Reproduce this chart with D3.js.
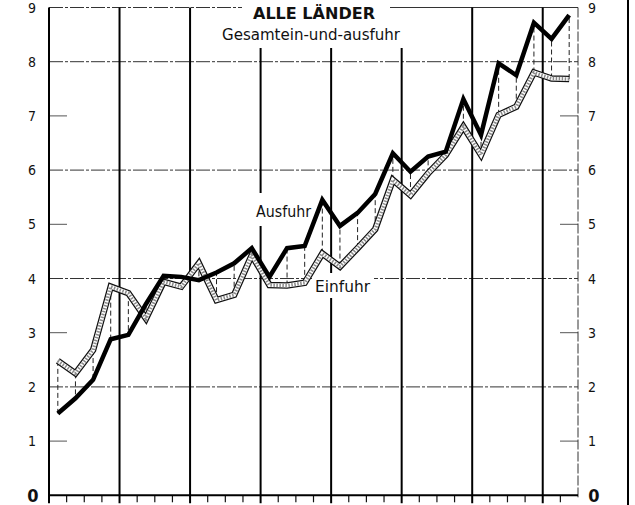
<!DOCTYPE html>
<html>
<head>
<meta charset="utf-8">
<script src="https://cdn.jsdelivr.net/npm/d3@7"></script>
<style>
  html, body { margin: 0; padding: 0; background: #fff; }
  svg { display: block; }
  text { font-family: "DejaVu Sans", sans-serif; fill: #111; }
</style>
</head>
<body>
<svg id="chart" width="635" height="505"></svg>
<script>
// Quarterly data (30 quarters, 7.5 years)
const quarters = ["1/I","1/II","1/III","1/IV","2/I","2/II","2/III","2/IV","3/I","3/II","3/III","3/IV",
  "4/I","4/II","4/III","4/IV","5/I","5/II","5/III","5/IV","6/I","6/II","6/III","6/IV",
  "7/I","7/II","7/III","7/IV","8/I","8/II"];
const ausfuhr = [1.51, 1.79, 2.13, 2.88, 2.96, 3.53, 4.05, 4.03, 3.97, 4.11, 4.28, 4.56,
  4.03, 4.56, 4.60, 5.45, 4.97, 5.21, 5.56, 6.31, 5.97, 6.25, 6.34, 7.31,
  6.65, 7.97, 7.75, 8.72, 8.42, 8.86];
const einfuhr = [2.48, 2.25, 2.68, 3.85, 3.73, 3.26, 3.94, 3.85, 4.28, 3.60, 3.70, 4.43,
  3.88, 3.87, 3.92, 4.46, 4.22, 4.56, 4.91, 5.82, 5.54, 5.94, 6.28, 6.80,
  6.28, 7.02, 7.17, 7.80, 7.69, 7.68];
const yTicks = [0, 1, 2, 3, 4, 5, 6, 7, 8, 9];
const gridValues = [2, 4, 6, 8];
const oddValues = [1, 3, 5, 7];
const title = "ALLE LÄNDER";
const subtitle = "Gesamtein-und-ausfuhr";
const labelAus = "Ausfuhr";
const labelEin = "Einfuhr";

const svg = d3.select("#chart");
const L = 49, R = 578, T = 7.5, B = 495.3;
const xq = d3.scaleLinear().domain([0, quarters.length]).range([L, R]);
const y = d3.scaleLinear().domain([0, 9]).range([B, T]);
const px = i => xq(i + 0.5);

// horizontal gridlines at even values
svg.append("g").selectAll("line").data(gridValues).join("line")
  .attr("x1", L).attr("x2", R)
  .attr("y1", d => y(d)).attr("y2", d => y(d))
  .attr("stroke", "#333").attr("stroke-width", 1)
  .attr("stroke-dasharray", "14,2,3,2");

// short ticks at odd values (left and right)
const og = svg.append("g");
og.selectAll("line.l").data(oddValues).join("line").attr("class", "l")
  .attr("x1", L).attr("x2", L + 18).attr("y1", d => y(d)).attr("y2", d => y(d))
  .attr("stroke", "#555").attr("stroke-width", 1);
og.selectAll("line.r").data(oddValues).join("line").attr("class", "r")
  .attr("x1", R - 18).attr("x2", R).attr("y1", d => y(d)).attr("y2", d => y(d))
  .attr("stroke", "#555").attr("stroke-width", 1);

// top line at 9 (interrupted by title)
svg.append("line").attr("x1", L).attr("x2", 242).attr("y1", y(9)).attr("y2", y(9))
  .attr("stroke", "#333").attr("stroke-width", 1).attr("stroke-dasharray", "14,2,3,2");
svg.append("line").attr("x1", 390).attr("x2", R).attr("y1", y(9)).attr("y2", y(9))
  .attr("stroke", "#333").attr("stroke-width", 1);

// minor quarter ticks below axis
svg.append("g").selectAll("line").data(d3.range(1, quarters.length).filter(i => i % 4 !== 0)).join("line")
  .attr("x1", d => xq(d)).attr("x2", d => xq(d))
  .attr("y1", B).attr("y2", B + 7)
  .attr("stroke", "#111").attr("stroke-width", 1.2);

// major yearly vertical gridlines
const majors = d3.range(4, quarters.length, 4);
svg.append("g").selectAll("line").data(majors).join("line")
  .attr("x1", d => xq(d)).attr("x2", d => xq(d))
  .attr("y1", d => (xq(d) > 245 && xq(d) < 410) ? 48 : y(9))
  .attr("y2", B + 8)
  .attr("stroke", "#000").attr("stroke-width", 2);

// left axis, right border, bottom axis
svg.append("line").attr("x1", L).attr("x2", L).attr("y1", y(9)).attr("y2", B + 8)
  .attr("stroke", "#000").attr("stroke-width", 2);
svg.append("line").attr("x1", R).attr("x2", R).attr("y1", y(9)).attr("y2", B + 2)
  .attr("stroke", "#333").attr("stroke-width", 1).attr("stroke-dasharray", "10,2");
svg.append("line").attr("x1", L).attr("x2", R).attr("y1", B).attr("y2", B)
  .attr("stroke", "#000").attr("stroke-width", 2);

// outer page border at right
svg.append("line").attr("x1", 628).attr("x2", 628).attr("y1", 0).attr("y2", 505)
  .attr("stroke", "#000").attr("stroke-width", 2);

// y labels left & right
const lab = svg.append("g");
lab.selectAll("text.l").data(yTicks).join("text").attr("class", "l")
  .attr("x", d => d === 0 ? 33 : 32).attr("y", d => y(d))
  .attr("dy", d => d === 0 ? "0.36em" : "0.36em")
  .attr("text-anchor", "middle")
  .attr("font-size", d => d === 0 ? 18 : 14)
  .attr("font-weight", d => d === 0 ? "bold" : "normal")
  .attr("font-stretch", "condensed")
  .text(d => d);
lab.selectAll("text.r").data(yTicks).join("text").attr("class", "r")
  .attr("x", d => d === 0 ? 594 : 592).attr("y", d => y(d))
  .attr("dy", "0.36em")
  .attr("text-anchor", "middle")
  .attr("font-size", d => d === 0 ? 18 : 14)
  .attr("font-weight", d => d === 0 ? "bold" : "normal")
  .attr("font-stretch", "condensed")
  .text(d => d);

// label backgrounds interrupting gridlines
svg.append("rect").attr("x", 251).attr("y", 193).attr("width", 64).attr("height", 33).attr("fill", "#fff");
svg.append("rect").attr("x", 312).attr("y", 273).attr("width", 62).attr("height", 25).attr("fill", "#fff");

svg.append("text").attr("x", 256).attr("y", 216.5).attr("font-size", 15)
  .attr("textLength", 55).attr("lengthAdjust", "spacingAndGlyphs").text(labelAus);
svg.append("text").attr("x", 315).attr("y", 291.5).attr("font-size", 15)
  .attr("textLength", 55).attr("lengthAdjust", "spacingAndGlyphs").text(labelEin);

// title
svg.append("text").attr("x", 253).attr("y", 18.5).attr("font-size", 15).attr("font-weight", "bold")
  .attr("textLength", 122).attr("lengthAdjust", "spacingAndGlyphs").text(title);
svg.append("text").attr("x", 222).attr("y", 40).attr("font-size", 16)
  .attr("textLength", 178).attr("lengthAdjust", "spacingAndGlyphs").text(subtitle);

// connectors between the series
svg.append("g").selectAll("line").data(quarters.map((q, i) => i)).join("line")
  .attr("x1", i => px(i)).attr("x2", i => px(i))
  .attr("y1", i => y(einfuhr[i])).attr("y2", i => y(ausfuhr[i]))
  .attr("stroke", "#222").attr("stroke-width", 1).attr("stroke-dasharray", "5,3");

// Einfuhr: hollow hatched line
const line = d3.line().x((d, i) => px(i)).y(d => y(d));
svg.append("path").datum(einfuhr).attr("d", line).attr("fill", "none")
  .attr("stroke", "#111").attr("stroke-width", 6.5).attr("stroke-linejoin", "miter");
svg.append("path").datum(einfuhr).attr("d", line).attr("fill", "none")
  .attr("stroke", "#fff").attr("stroke-width", 4).attr("stroke-linejoin", "miter");
svg.append("path").datum(einfuhr).attr("d", line).attr("fill", "none")
  .attr("stroke", "#8a8a8a").attr("stroke-width", 3.5).attr("stroke-dasharray", "1.5,1.5")
  .attr("stroke-linejoin", "miter");

// Ausfuhr: thick black line
svg.append("path").datum(ausfuhr).attr("d", line).attr("fill", "none")
  .attr("stroke", "#000").attr("stroke-width", 4.5).attr("stroke-linejoin", "miter");
</script>
</body>
</html>
